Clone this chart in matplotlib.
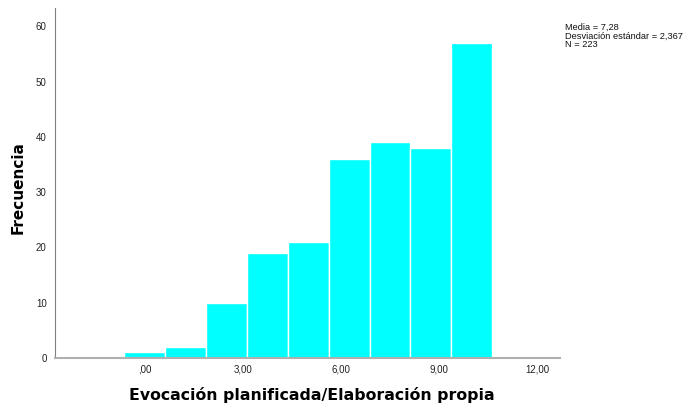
import matplotlib
matplotlib.use("Agg")
import matplotlib.pyplot as plt

bin_centers = [0.0, 1.25, 2.5, 3.75, 5.0, 6.25, 7.5, 8.75, 10.0]
frequencies = [1, 2, 10, 19, 21, 36, 39, 38, 57]
bin_width = 1.25
x_ticks = [0, 3, 6, 9, 12]
x_tick_labels = [",00", "3,00", "6,00", "9,00", "12,00"]
y_ticks = [0, 10, 20, 30, 40, 50, 60]
stats_text = "Media = 7,28\nDesviación estándar = 2,367\nN = 223"

plt.rcParams['font.family'] = ['Liberation Sans', 'DejaVu Sans']

fig = plt.figure(figsize=(6.89, 4.03), dpi=100)
ax = fig.add_axes([0.0798, 0.1117, 0.733, 0.868])
ax.bar(bin_centers, frequencies, width=bin_width, color='#00FFFF',
       edgecolor='white', linewidth=1.0)
ax.set_xlim(-2.75, 12.7)
ax.set_ylim(0, 63.3)
ax.set_xticks(x_ticks)
ax.set_xticklabels(x_tick_labels)
ax.set_yticks(y_ticks)
ax.tick_params(axis='x', length=0, labelsize=7, colors='#222222', pad=5)
ax.tick_params(axis='y', length=0, labelsize=7, colors='#222222', pad=6)
for s in ['top', 'right']:
    ax.spines[s].set_visible(False)
ax.spines['left'].set_color('#808080')
ax.spines['bottom'].set_color('#b0b0b0')
ax.spines['bottom'].set_linewidth(1.5)
fig.text(312/689, 1 - 395/403, "Evocación planificada/Elaboración propia",
         fontsize=11.3, fontweight='bold', family='DejaVu Sans',
         ha='center', va='center')
fig.text(18/689, 1 - 188/403, "Frecuencia", fontsize=11, fontweight='bold',
         family='DejaVu Sans', rotation=90, ha='center', va='center')
fig.text(565/689, 1 - 23/403, stats_text, fontsize=6.7, va='top', ha='left',
         linespacing=0.95, color='#111111')
fig.savefig("out.png", dpi=100)
